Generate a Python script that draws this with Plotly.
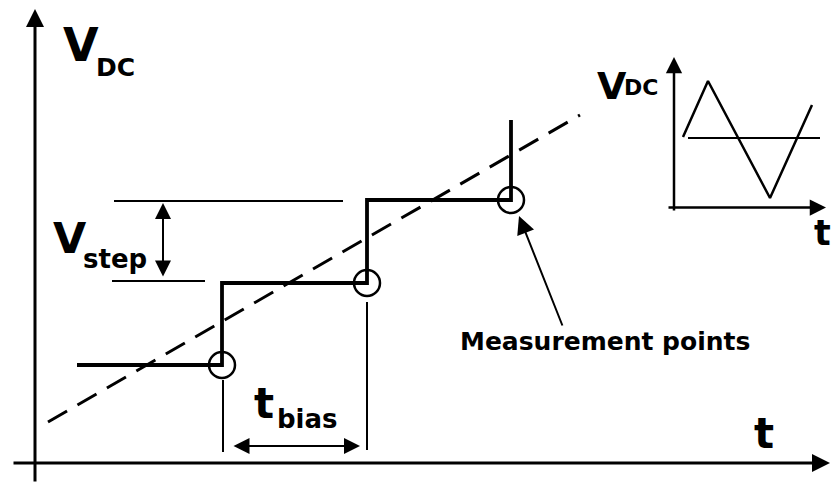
import plotly.graph_objects as go

# staircase bias sweep (x = time, y = voltage, in drawing units)
step_t = [77, 222, 367, 511]
step_v = [118, 200, 283, 363]

# measurement points sit at the end of each bias interval
meas_t = [222, 367, 511]
meas_v = [118, 200, 283]

# equivalent linear ramp (dashed)
ramp_t = [48, 580]
ramp_v = [61, 368]

# inset: triangular DC sweep and its mean level
tri_t = [683, 708, 770, 812]
tri_v = [346, 402, 285, 378]
mean_t = [688, 820]
mean_v = [345, 345]

# dimension lines
vstep_ref_top = ([114, 343], [282, 282])
vstep_ref_bot = ([112, 205], [202, 202])
tbias_ref_left = ([223, 223], [103, 31])
tbias_ref_right = ([367, 367], [181, 33])

FONT = "DejaVu Sans"

fig = go.Figure()

stair_x, stair_y = [step_t[0]], [step_v[0]]
for i in range(1, len(step_t)):
    stair_x += [step_t[i], step_t[i]]
    stair_y += [step_v[i - 1], step_v[i]]
stair_x = stair_x[:-1] + [step_t[-1]]

fig.add_trace(go.Scatter(x=ramp_t, y=ramp_v, mode='lines',
                         line=dict(color='black', width=3, dash='22px,12px')))
fig.add_trace(go.Scatter(x=stair_x, y=stair_y, mode='lines',
                         line=dict(color='black', width=3.8)))
fig.add_trace(go.Scatter(x=meas_t, y=meas_v, mode='markers',
                         marker=dict(symbol='circle-open', size=26,
                                     color='black', line=dict(width=2.5))))

for xs, ys in [vstep_ref_top, vstep_ref_bot, tbias_ref_left, tbias_ref_right]:
    fig.add_trace(go.Scatter(x=xs, y=ys, mode='lines',
                             line=dict(color='black', width=2)))

fig.add_trace(go.Scatter(x=tri_t, y=tri_v, mode='lines',
                         line=dict(color='black', width=2.5)))
fig.add_trace(go.Scatter(x=mean_t, y=mean_v, mode='lines',
                         line=dict(color='black', width=2)))


def arrow(x0, y0, x1, y1, width, size, both=False):
    fig.add_annotation(x=x1, y=y1, ax=x0, ay=y0, xref='x', yref='y',
                       axref='x', ayref='y', text='', showarrow=True,
                       arrowhead=2, arrowsize=size, arrowwidth=width,
                       arrowcolor='black', standoff=0, startstandoff=0,
                       startarrowhead=2, startarrowsize=size,
                       arrowside='end+start' if both else 'end')


# main axes
arrow(35, 0, 35, 474, 3, 1.2)
arrow(12, 20, 830, 20, 3, 1.2)
# inset axes
arrow(674, 271, 674, 426, 2.5, 1.3)
arrow(667, 275.5, 826, 275.5, 2.5, 1.3)
# dimension arrows
arrow(163, 205, 163, 280, 2, 1.6, both=True)
arrow(232, 37, 360, 37, 2, 1.6, both=True)
# pointer to measurement points
arrow(563, 156, 519, 267, 2, 1.8)


def label(x, y, txt, size):
    fig.add_annotation(x=x, y=y, xref='x', yref='y', text=txt,
                       showarrow=False, xanchor='center', yanchor='middle',
                       font=dict(family=FONT, size=size, color='black',
                                 weight='bold'))


label(80.5, 438, 'V', 46)
label(115, 416, 'DC', 25)
label(70, 245.5, 'V', 43)
label(115, 224, 'step', 26)
label(263.5, 79.5, 't', 42)
label(307.5, 64, 'bias', 26)
label(764, 49.5, 't', 42)
label(822, 250, 't', 35)
label(604.5, 141.5, 'Measurement points', 25)
label(612, 397, 'V', 38)
label(641, 396, 'DC', 22)

fig.update_layout(width=832, height=483, showlegend=False,
                  margin=dict(l=0, r=0, t=0, b=0),
                  paper_bgcolor='white', plot_bgcolor='white',
                  hovermode=False,
                  xaxis=dict(range=[0, 832], visible=False, fixedrange=True),
                  yaxis=dict(range=[0, 483], visible=False, fixedrange=True))

fig.write_html("out.html", config={'displayModeBar': False},
               post_script="document.body.style.margin='0';")
